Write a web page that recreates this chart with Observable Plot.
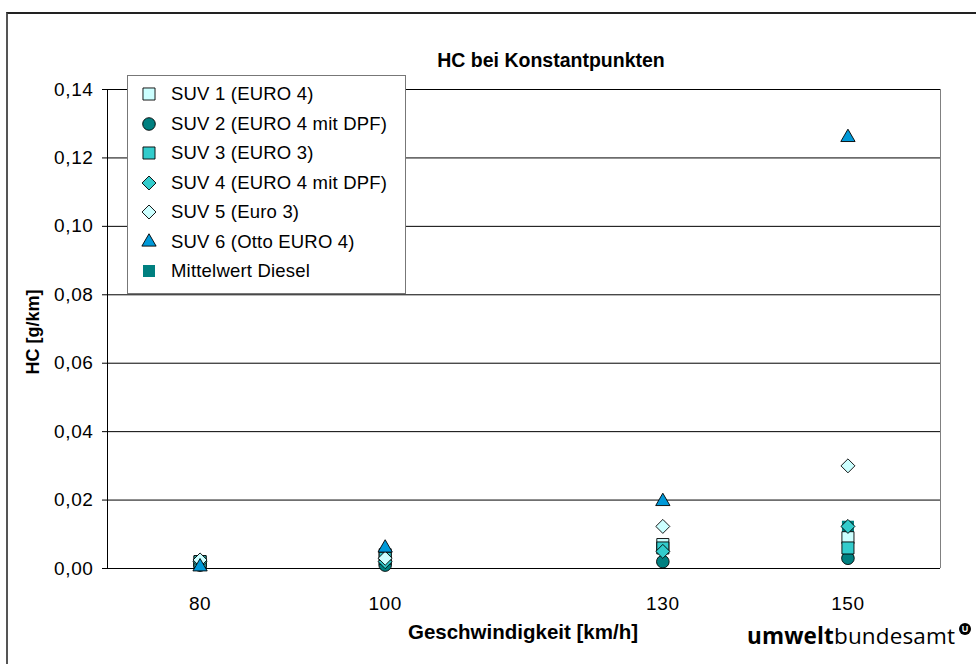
<!DOCTYPE html>
<html><head><meta charset="utf-8">
<script src="https://cdn.jsdelivr.net/npm/d3@7"></script>
<script src="https://cdn.jsdelivr.net/npm/@observablehq/plot@0.6"></script>
<style>
body{margin:0;background:#fff;font-family:"Liberation Sans",Arial,sans-serif;color:#000;}
#wrap{position:relative;width:976px;height:664px;overflow:hidden;background:#fff;}
#frame{position:absolute;left:6px;top:12px;width:1000px;height:700px;border-left:2px solid #555;border-top:2px solid #222;}
#chart{position:absolute;left:0;top:0;}
.lbl{position:absolute;white-space:nowrap;font-weight:bold;transform:translate(-50%,-50%);}
#legend{position:absolute;left:127px;top:75px;width:277px;height:217px;border:1px solid #777;background:#fff;}
.row{position:absolute;left:0;height:20px;display:flex;align-items:center;font-size:18.5px;letter-spacing:0.2px;}
.row svg{position:absolute;left:11px;top:0;}
.row span{position:absolute;left:43px;white-space:nowrap;}
#logo{position:absolute;left:747px;top:620px;font-family:"Open Sans",sans-serif;font-size:22.5px;white-space:nowrap;letter-spacing:0.15px;}
#logo b{font-weight:700;}
#logo .reg{display:inline-block;width:12px;height:12px;border-radius:50%;background:#000;color:#fff;font-size:9px;font-weight:bold;line-height:12px;text-align:center;vertical-align:top;margin-left:4px;margin-top:3px;font-family:"Liberation Sans",Arial,sans-serif;}
#chart text{letter-spacing:0.6px;}
</style></head><body>
<div id="wrap">
  <div id="frame"></div>
  <div id="chart"></div>
  <div class="lbl" style="left:551px;top:60px;font-size:19.5px;">HC bei Konstantpunkten</div>
  <div class="lbl" style="left:523px;top:632px;font-size:20.5px;">Geschwindigkeit [km/h]</div>
  <div class="lbl" style="left:33px;top:332px;font-size:18px;transform:translate(-50%,-50%) rotate(-90deg);">HC [g/km]</div>
  <div id="legend"></div>
  <div id="logo"><b>umwelt</b>bundesamt<span class="reg">U</span></div>
</div>
<script>
// x categories (speeds) and tick labels
const speeds = [80, 100, 130, 150];
const yTicks = [0, 0.02, 0.04, 0.06, 0.08, 0.10, 0.12, 0.14];

// series values (HC g/km) at 80, 100, 130, 150 km/h
const mittelwertDiesel = [0.0018, 0.0026, 0.0064, 0.0122];
const suv1 = [0.002, 0.004, 0.007, 0.009];
const suv2 = [0.001, 0.001, 0.002, 0.003];
const suv3 = [0.002, 0.003, 0.006, 0.006];
const suv4 = [0.002, 0.002, 0.005, 0.0123];
const suv5 = [0.0025, 0.003, 0.0123, 0.030];
const suv6 = [0.0005, 0.006, 0.0196, 0.126];

const seriesNames = [
  "SUV 1 (EURO 4)", "SUV 2 (EURO 4 mit DPF)", "SUV 3 (EURO 3)",
  "SUV 4 (EURO 4 mit DPF)", "SUV 5 (Euro 3)", "SUV 6 (Otto EURO 4)", "Mittelwert Diesel"
];

const styles = {
  "SUV 1 (EURO 4)":        {symbol: "square",   fill: "#CCFFFF", stroke: "#000", r: 6.8},
  "SUV 2 (EURO 4 mit DPF)":{symbol: "circle",   fill: "#008080", stroke: "#000", r: 6.3},
  "SUV 3 (EURO 3)":        {symbol: "square",   fill: "#33CCCC", stroke: "#000", r: 6.8},
  "SUV 4 (EURO 4 mit DPF)":{symbol: "diamond2", fill: "#33CCCC", stroke: "#000", r: 6.3},
  "SUV 5 (Euro 3)":        {symbol: "diamond2", fill: "#CCFFFF", stroke: "#000", r: 6.3},
  "SUV 6 (Otto EURO 4)":   {symbol: "triangle", fill: "#0099D8", stroke: "#000", r: 5.3},
  "Mittelwert Diesel":     {symbol: "square",   fill: "#008080", stroke: "none", r: 6.8}
};

const valuesBySeries = {
  "SUV 1 (EURO 4)": suv1, "SUV 2 (EURO 4 mit DPF)": suv2, "SUV 3 (EURO 3)": suv3,
  "SUV 4 (EURO 4 mit DPF)": suv4, "SUV 5 (Euro 3)": suv5, "SUV 6 (Otto EURO 4)": suv6,
  "Mittelwert Diesel": mittelwertDiesel
};

const drawOrder = ["Mittelwert Diesel", "SUV 1 (EURO 4)", "SUV 2 (EURO 4 mit DPF)", "SUV 3 (EURO 3)",
  "SUV 4 (EURO 4 mit DPF)", "SUV 5 (Euro 3)", "SUV 6 (Otto EURO 4)"];

const fmt = d => d.toFixed(2).replace(".", ",");

const dotMarks = drawOrder.map(name => {
  const s = styles[name];
  const data = speeds.map((sp, i) => ({speed: sp, value: valuesBySeries[name][i]}));
  return Plot.dot(data, {x: "speed", y: "value", symbol: () => s.symbol, fill: s.fill,
    stroke: s.stroke, strokeWidth: 0.9, r: s.r});
});

const chart = Plot.plot({
  width: 976, height: 664,
  marginLeft: 107, marginRight: 36, marginTop: 89, marginBottom: 96,
  style: {fontFamily: "Liberation Sans, Arial, sans-serif", fontSize: "18px", color: "#000", background: "transparent"},
  x: {type: "linear", domain: [70, 160]},
  y: {domain: [0, 0.14]},
  symbol: {type: "identity"},
  marks: [
    Plot.ruleY(yTicks, {stroke: "#000", strokeWidth: 1}),
    Plot.ruleX([70], {stroke: "#000", strokeWidth: 1}),
    Plot.ruleX([160], {stroke: "#808080", strokeWidth: 1}),
    Plot.axisY({ticks: yTicks, tickFormat: fmt, tickSize: 5, tickPadding: 9, fontSize: 19, label: null}),
    Plot.axisX({ticks: speeds, tickFormat: d => String(d), tickSize: 0, tickPadding: 28, fontSize: 19, label: null}),
    ...dotMarks
  ]
});
document.getElementById("chart").appendChild(chart);

// legend
const legend = document.getElementById("legend");
const symMap = {square: d3.symbolSquare, circle: d3.symbolCircle, diamond2: d3.symbolDiamond2, triangle: d3.symbolTriangle};
seriesNames.forEach((name, i) => {
  const s = styles[name];
  const row = document.createElement("div");
  row.className = "row";
  row.style.top = (8 + i * 29.5) + "px";
  row.style.width = "270px";
  const svg = d3.create("svg").attr("width", 20).attr("height", 20);
  svg.append("path")
    .attr("transform", "translate(10,10)")
    .attr("d", d3.symbol(symMap[s.symbol], Math.PI * s.r * s.r)())
    .attr("fill", s.fill).attr("stroke", s.stroke).attr("stroke-width", 0.9);
  row.appendChild(svg.node());
  const t = document.createElement("span");
  t.textContent = name;
  row.appendChild(t);
  legend.appendChild(row);
});
</script>
</body></html>
